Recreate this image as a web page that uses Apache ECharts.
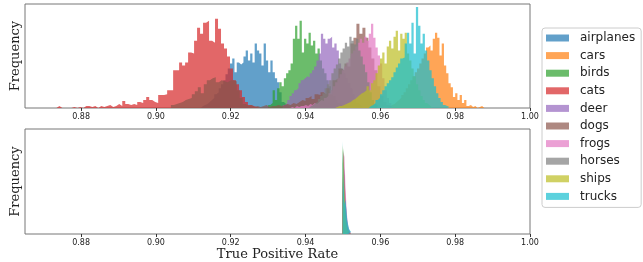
<!DOCTYPE html>
<html>
<head>
<meta charset="utf-8">
<script src="https://cdn.jsdelivr.net/npm/echarts@6/dist/echarts.min.js"></script>
<style>
html, body { margin: 0; padding: 0; background: #fff; }
#chart { width: 643px; height: 262px; }
</style>
</head>
<body>
<div id="chart"></div>
<script>
const classes = ['airplanes', 'cars', 'birds', 'cats', 'deer', 'dogs', 'frogs', 'horses', 'ships', 'trucks'];
const colors = [
    'rgba(31,119,180,0.7)', 'rgba(255,127,14,0.7)', 'rgba(44,160,44,0.7)', 'rgba(214,39,40,0.7)',
    'rgba(148,103,189,0.7)', 'rgba(140,86,75,0.7)', 'rgba(227,119,194,0.7)', 'rgba(127,127,127,0.7)',
    'rgba(188,189,34,0.7)', 'rgba(23,190,207,0.7)'
];
const xTicks = [0.88, 0.90, 0.92, 0.94, 0.96, 0.98, 1.00];

// top panel: first bin edge and bin width per class
const topStart = [0.9120, 0.9620, 0.9300, 0.8734, 0.9339, 0.9040, 0.9359, 0.9409, 0.9479, 0.9569];
const topWidth = [0.0006, 0.0006, 0.0006, 0.0008, 0.0006, 0.0008, 0.0006, 0.0006, 0.0006, 0.0006];

const airplanesTop = [2, 3, 4, 6, 8, 10, 14, 16, 20, 24, 28, 34, 40, 45, 50, 36, 46, 44, 46, 52, 58, 48, 55, 46, 65, 58, 55, 43, 65, 48, 36, 48, 36, 30, 26, 16, 6, 4, 2, 1];
const carsTop = [2, 3, 4, 6, 8, 10, 13, 16, 20, 24, 28, 32, 36, 40, 45, 50, 55, 61, 63, 58, 70, 76, 71, 53, 65, 43, 35, 25, 21, 11, 15, 8, 13, 5, 8, 2, 3, 1, 2, 0, 1, 2, 0, 1];
const birdsTop = [3, 5, 18, 8, 20, 26, 22, 30, 35, 38, 45, 70, 83, 70, 88, 56, 70, 65, 76, 63, 68, 55, 60, 48, 40, 35, 28, 22, 18, 12, 8, 5, 3, 2, 1];
const catsTop = [2, 0, 0, 0, 0, 1, 0, 1, 0, 2, 2, 1, 2, 0, 2, 1, 2, 3, 1, 2, 4, 2, 7, 4, 3, 4, 3, 6, 5, 8, 11, 8, 6, 5, 13, 13, 14, 18, 18, 38, 38, 46, 43, 46, 56, 55, 68, 81, 75, 86, 88, 68, 66, 90, 80, 65, 60, 52, 40, 28, 24, 18, 11, 6, 3, 2, 1, 0, 1];
const deerTop = [3, 5, 8, 12, 15, 18, 20, 25, 28, 30, 32, 31, 35, 38, 42, 48, 55, 75, 70, 65, 70, 72, 61, 65, 58, 45, 40, 35, 30, 25, 20, 14, 9, 5, 3, 1];
const dogsTop = [3, 4, 5, 6, 8, 9, 10, 14, 17, 21, 15, 24, 28, 30, 31, 26, 28, 27, 26, 28, 28, 27, 18, 10, 4, 2, 3, 1, 2, 1, 2, 3, 1, 2, 2, 3, 2, 3, 4, 3, 5, 4, 6, 8, 7, 10, 12, 9, 14, 13, 16, 14, 20, 14, 28, 30, 40, 38, 45, 42, 65, 71, 85, 75, 81, 71, 61, 50, 38, 22, 12, 6, 3, 1];
const frogsTop = [1, 0, 2, 1, 2, 2, 3, 2, 4, 3, 5, 4, 6, 8, 7, 10, 12, 15, 18, 22, 26, 30, 34, 38, 42, 46, 50, 55, 58, 62, 66, 70, 66, 72, 68, 75, 85, 71, 61, 53, 45, 30, 18, 10, 5, 2];
const horsesTop = [2, 3, 5, 6, 9, 12, 15, 20, 24, 28, 35, 40, 44, 50, 56, 60, 66, 62, 72, 68, 64, 70, 58, 52, 44, 36, 26, 16, 8, 4, 2];
const shipsTop = [1, 2, 2, 3, 4, 5, 6, 8, 9, 11, 13, 15, 16, 18, 22, 18, 25, 28, 35, 43, 50, 56, 45, 62, 68, 60, 72, 78, 58, 75, 70, 76, 55, 48, 40, 32, 24, 18, 12, 8, 5, 3, 1];
const trucksTop = [2, 3, 5, 8, 10, 14, 18, 22, 25, 28, 31, 36, 41, 45, 50, 51, 65, 76, 65, 86, 55, 102, 83, 65, 75, 58, 48, 38, 30, 22, 15, 10, 6, 3, 2, 1];

// bottom panel: all classes share the same bins
const bottomStart = 0.9499;
const bottomWidth = 0.00025;
const airplanesBottom = [30, 62, 45, 28, 15, 8, 4, 2, 1];
const carsBottom = [50, 75, 40, 18, 8, 4, 2, 1];
const birdsBottom = [70, 86, 50, 25, 12, 6, 3, 1];
const catsBottom = [20, 55, 60, 35, 20, 10, 5, 3, 2, 1];
const deerBottom = [40, 80, 55, 30, 15, 7, 3, 1];
const dogsBottom = [35, 70, 60, 38, 22, 12, 6, 3, 1];
const frogsBottom = [25, 82, 77, 50, 30, 16, 8, 4, 2, 1];
const horsesBottom = [45, 84, 48, 28, 14, 7, 3, 1];
const shipsBottom = [89, 72, 40, 20, 10, 5, 3, 2, 1];
const trucksBottom = [93, 55, 30, 34, 25, 14, 9, 5, 3, 2, 1];

const topCounts = [airplanesTop, carsTop, birdsTop, catsTop, deerTop, dogsTop, frogsTop, horsesTop, shipsTop, trucksTop];
const bottomCounts = [airplanesBottom, carsBottom, birdsBottom, catsBottom, deerBottom, dogsBottom, frogsBottom, horsesBottom, shipsBottom, trucksBottom];

// histogram outline as a stepped line: [edge, count] points
const toSteps = (start, width, counts) => {
    const pts = [[start, 0]];
    counts.forEach((c, i) => pts.push([start + i * width, c]));
    pts.push([start + counts.length * width, 0]);
    return pts;
};

const chart = echarts.init(document.getElementById('chart'));

const xAxisBase = {
    type: 'value',
    min: 0.865,
    max: 1.0,
    axisLine: { show: false },
    splitLine: { show: false },
    axisTick: { show: true, length: 3, customValues: xTicks, lineStyle: { color: '#333' } },
    axisLabel: {
        customValues: xTicks,
        fontFamily: 'DejaVu Sans',
        fontSize: 8,
        color: '#222',
        margin: 5,
        formatter: v => v.toFixed(2)
    }
};

const yAxisBase = {
    type: 'value',
    min: 0,
    max: 105,
    name: 'Frequency',
    nameLocation: 'middle',
    nameGap: 3,
    nameTextStyle: { fontFamily: 'DejaVu Serif', fontSize: 13, color: '#222' },
    axisLine: { show: false },
    axisTick: { show: false },
    axisLabel: { show: false },
    splitLine: { show: false }
};

const series = [];
classes.forEach((name, i) => {
    [0, 1].forEach(g => {
        const data = g === 0
            ? toSteps(topStart[i], topWidth[i], topCounts[i])
            : toSteps(bottomStart, bottomWidth, bottomCounts[i]);
        series.push({
            name: name,
            type: 'line',
            xAxisIndex: g,
            yAxisIndex: g,
            step: 'end',
            showSymbol: false,
            silent: true,
            color: colors[i],
            lineStyle: { width: 0 },
            areaStyle: { color: colors[i], opacity: 1 },
            data: data
        });
    });
});

chart.setOption({
    animation: false,
    grid: [
        { left: 25, right: 113, top: 4, height: 104, show: true, borderColor: '#777', borderWidth: 1 },
        { left: 25, right: 113, top: 129, height: 105, show: true, borderColor: '#777', borderWidth: 1 }
    ],
    xAxis: [
        { ...xAxisBase, gridIndex: 0 },
        {
            ...xAxisBase,
            gridIndex: 1,
            name: 'True Positive Rate',
            nameLocation: 'middle',
            nameGap: 13,
            nameTextStyle: { fontFamily: 'DejaVu Serif', fontSize: 13, color: '#222' }
        }
    ],
    yAxis: [
        { ...yAxisBase, gridIndex: 0 },
        { ...yAxisBase, gridIndex: 1 }
    ],
    legend: {
        data: classes,
        orient: 'vertical',
        left: 542,
        top: 28,
        icon: 'rect',
        itemWidth: 23,
        itemHeight: 7,
        itemGap: 3.6,
        padding: [3, 6, 4, 4],
        borderColor: '#ccc',
        borderWidth: 1,
        borderRadius: 3,
        textStyle: { fontFamily: 'DejaVu Sans', fontSize: 12, lineHeight: 14, color: '#222', padding: [0, 0, 0, 6] }
    },
    series: series
});
</script>
</body>
</html>
